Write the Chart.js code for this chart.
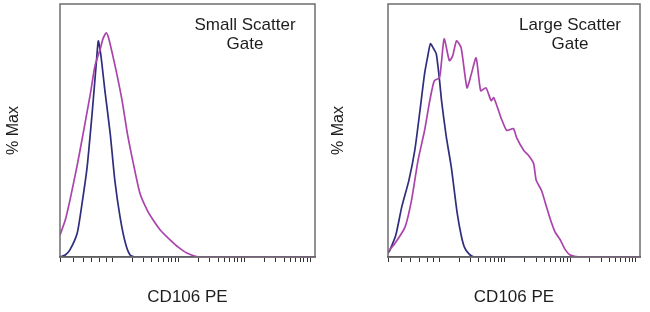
<!DOCTYPE html>
<html>
<head>
<meta charset="utf-8">
<script src="https://cdn.jsdelivr.net/npm/chart.js@4"></script>
<style>
  body { margin: 0; background: #fff; }
  .panel { position: absolute; top: 0; width: 325px; height: 312px; }
</style>
</head>
<body>
<div class="panel" style="left:0"><canvas id="smallGate" width="325" height="312"></canvas></div>
<div class="panel" style="left:325px"><canvas id="largeGate" width="325" height="312"></canvas></div>
<script>
// CD106 PE channel (decade units) and % Max
const smallIsoX = [0, 0.08, 0.15, 0.26, 0.33, 0.41, 0.49, 0.55, 0.58, 0.62, 0.68, 0.76, 0.83, 0.91, 0.99, 1.06, 1.14, 3.86];
const smallIsoY = [0, 0.8, 2.8, 9.4, 20.5, 35.4, 57.9, 76.8, 85.4, 79.5, 65.7, 48.8, 30.3, 15.7, 5.5, 0.8, 0, 0];
const smallCd106X = [0, 0.08, 0.15, 0.26, 0.35, 0.46, 0.53, 0.61, 0.65, 0.7, 0.74, 0.8, 0.86, 0.94, 1.02, 1.11, 1.21, 1.32, 1.41, 1.52, 1.67, 1.79, 1.92, 2.12, 3.86];
const smallCd106Y = [8.7, 14.6, 22.4, 36.2, 48.8, 64.6, 75.6, 82.3, 86.2, 88.6, 86.2, 79.5, 72.4, 61.8, 48.8, 37.0, 25.2, 18.5, 14.6, 10.6, 6.7, 3.9, 1.6, 0, 0];

const largeIsoX = [0, 0.03, 0.12, 0.21, 0.32, 0.41, 0.49, 0.56, 0.61, 0.65, 0.7, 0.74, 0.79, 0.82, 0.89, 0.97, 1.06, 1.12, 1.17, 1.24, 1.32, 3.86];
const largeIsoY = [1.5, 2.8, 8.7, 19.7, 30.3, 42.1, 57.9, 72.4, 79.5, 84.3, 82.3, 80.3, 69.7, 61.8, 48.0, 35.4, 17.3, 8.7, 3.9, 1.2, 0, 0];
const largeCd106X = [0, 0.11, 0.26, 0.36, 0.46, 0.56, 0.64, 0.71, 0.79, 0.86, 0.94, 0.99, 1.05, 1.12, 1.21, 1.27, 1.35, 1.42, 1.5, 1.58, 1.62, 1.73, 1.82, 1.92, 1.97, 2.08, 2.15, 2.23, 2.27, 2.35, 2.42, 2.49, 2.56, 2.64, 2.71, 2.79, 2.94, 3.86];
const largeCd106Y = [2.0, 5.5, 11.8, 22.4, 38.2, 50.0, 61.8, 69.7, 70.9, 86.2, 77.6, 79.5, 85.4, 82.7, 66.9, 71.7, 78.7, 65.7, 66.9, 61.8, 63.0, 55.1, 50.0, 50.8, 47.2, 42.1, 40.2, 37.0, 30.3, 26.4, 20.5, 14.6, 9.8, 6.7, 3.1, 0.8, 0, 0];

// log-style tick marks along the CD106 PE axis
const xTicks = [0, 0.2, 0.35, 0.48, 0.6, 0.7, 0.79];
[0.79, 1.79, 2.79].forEach(d => {
    for (let k = 2; k <= 10; k++) xTicks.push(+(d + Math.log10(k)).toFixed(3));
});

const ISO_COLOR = '#302d7c';
const CD106_COLOR = '#aa44ac';
const TEXT_FONT = '"Liberation Sans", Arial, sans-serif';

function toPoints(xs, ys) {
    return xs.map((x, i) => ({ x: x, y: ys[i] }));
}

// frame round the plot area plus the gate label
const framePlugin = {
    id: 'frame',
    afterDraw(chart) {
        const { ctx, chartArea } = chart;
        ctx.save();
        ctx.strokeStyle = '#6e6e6e';
        ctx.lineWidth = 1.5;
        ctx.strokeRect(chartArea.left, chartArea.top, chartArea.right - chartArea.left, chartArea.bottom - chartArea.top);
        ctx.fillStyle = '#1e1e1e';
        ctx.font = '17px ' + TEXT_FONT;
        ctx.textAlign = 'center';
        ctx.textBaseline = 'middle';
        const lines = chart.options.plugins.frame.lines;
        lines.forEach((t, i) => ctx.fillText(t, chartArea.right - 70, chartArea.top + 21 + i * 19));
        ctx.restore();
    }
};

function makeChart(id, isoX, isoY, posX, posY, gateLines, leftWidth) {
    return new Chart(document.getElementById(id), {
        type: 'line',
        data: {
            datasets: [{
                label: 'CD106 PE',
                data: toPoints(posX, posY),
                borderColor: CD106_COLOR,
                borderWidth: 1.7,
                pointRadius: 0,
                tension: 0.2
            }, {
                label: 'Isotype',
                data: toPoints(isoX, isoY),
                borderColor: ISO_COLOR,
                borderWidth: 1.7,
                pointRadius: 0,
                tension: 0.2
            }]
        },
        plugins: [framePlugin],
        options: {
            responsive: false,
            animation: false,
            devicePixelRatio: 1,
            layout: { padding: { top: 4, right: 10, left: 0, bottom: 0 } },
            plugins: {
                legend: { display: false },
                tooltip: { enabled: false },
                frame: { lines: gateLines }
            },
            scales: {
                x: {
                    type: 'linear',
                    min: 0,
                    max: 3.86,
                    afterBuildTicks(axis) {
                        axis.ticks = xTicks.map(v => ({ value: v }));
                    },
                    afterFit(axis) { axis.height = 55; },
                    ticks: { display: false },
                    grid: {
                        drawOnChartArea: false,
                        drawTicks: true,
                        tickLength: 5,
                        tickColor: '#333',
                        tickWidth: 1
                    },
                    border: { color: '#333', width: 1.5 },
                    title: {
                        display: true,
                        text: 'CD106 PE',
                        color: '#1e1e1e',
                        font: { family: TEXT_FONT, size: 17 }
                    }
                },
                y: {
                    min: 0,
                    max: 100,
                    afterFit(axis) { axis.width = leftWidth; },
                    ticks: { display: false },
                    grid: { drawOnChartArea: false, drawTicks: false },
                    border: { display: false },
                    title: {
                        display: true,
                        text: '% Max',
                        color: '#1e1e1e',
                        padding: { top: 4, bottom: 0 },
                        font: { family: TEXT_FONT, size: 16 }
                    }
                }
            }
        }
    });
}

makeChart('smallGate', smallIsoX, smallIsoY, smallCd106X, smallCd106Y, ['Small Scatter', 'Gate'], 60);
makeChart('largeGate', largeIsoX, largeIsoY, largeCd106X, largeCd106Y, ['Large Scatter', 'Gate'], 63);
</script>
</body>
</html>
